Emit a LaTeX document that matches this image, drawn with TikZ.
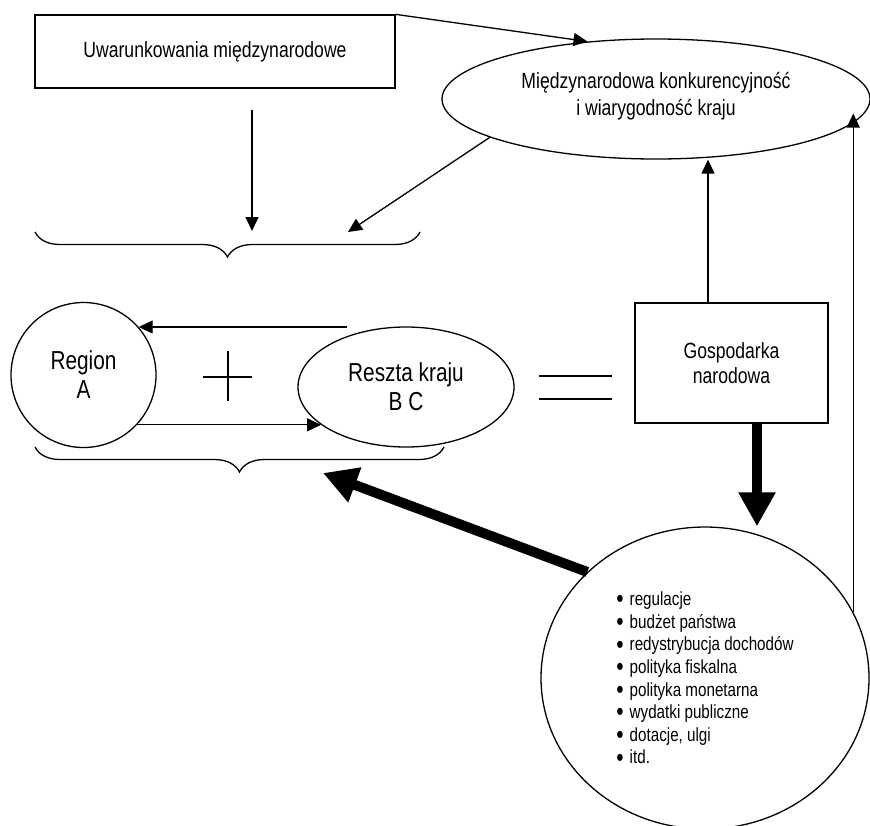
\documentclass[tikz,border=0pt]{standalone}
\usepackage{fontspec}
\setmainfont{Liberation Sans}[FakeStretch=0.8]
\usepackage{tikz}
\usetikzlibrary{arrows.meta,shapes.geometric,decorations.pathreplacing}

\begin{document}
\begin{tikzpicture}[x=0.5pt,y=-0.5pt,line width=0.65pt,
  arr/.style={-{Triangle[length=7pt,width=6.5pt]}},
  gruba/.style={line width=5pt,-{Triangle[length=17pt,width=17.5pt]}},
  klamra/.style={decorate,decoration={brace,mirror,amplitude=12.5pt}},
  opis/.style={font=\fontsize{11}{12.5}\selectfont,align=center},
  duzy/.style={font=\fontsize{13}{14.5}\selectfont,align=center}]
 \def\pkt{\smash{\raisebox{-1.1pt}{\fontsize{13}{0}\selectfont\textbullet}}\hspace{3pt}}
 \useasboundingbox (0,0) rectangle (870,825);
 \node[draw,opis,minimum width=180pt,minimum height=36.5pt] (uw) at (215,51.5) {Uwarunkowania międzynarodowe};
 \node[draw,ellipse,opis,minimum width=214pt,minimum height=60pt] (mk) at (656,99)
   {\raisebox{5pt}{\shortstack{Międzynarodowa konkurencyjność\\i wiarygodność kraju}}};
 \node[draw,circle,duzy,minimum size=72.5pt] (ra) at (83.5,375) {Region\\A};
 \node[draw,ellipse,duzy,minimum width=108pt,minimum height=60pt] (rk) at (406,387) {Reszta kraju\\B C};
 \node[draw,opis,minimum width=96.5pt,minimum height=60pt] (gn) at (731.5,363) {Gospodarka\\narodowa};
 \node[draw,ellipse,minimum width=164pt,minimum height=151pt,
   font=\fontsize{9.5}{11.3}\selectfont,align=left] (bc) at (705,678)
   {\pkt regulacje\\\pkt budżet państwa\\\pkt redystrybucja dochodów\\\pkt polityka fiskalna\\
    \pkt polityka monetarna\\\pkt wydatki publiczne\\\pkt dotacje, ulgi\\\pkt itd.};
 % klamry
 \draw[klamra] (35,232) -- (420,232);
 \draw[klamra] (35,447) -- (444,447);
 % + oraz =
 \draw (203,377) -- (252,377) (228,351) -- (228,401);
 \draw (539,376) -- (612,376) (539,399) -- (612,399);
 \coordinate (t1) at (252,110);
 \coordinate (t2) at (252,231);
 \coordinate (t3) at (348,232);
 \coordinate (t4) at (323,473);
 \coordinate (g1) at ([xshift=-11.75pt]gn.north);
 \coordinate (g2) at ([xshift=12.75pt]gn.south);
 \draw[arr] (uw.north east) -- (mk.140);
 \draw[arr] (mk.193) -- (t3);
 \draw[arr] (t1) -- (t2);
 \draw[arr] (g1) -- (g1 |- mk.south);
 \draw[arr] (bc.24) -- (bc.24 |- mk.-4);
 \draw[arr] ([xshift=25pt]ra.41 -| rk.west) -- (ra.41);
 \draw[arr] (ra.-43 |- rk.204) -- (rk.204);
 \draw[gruba] (g2) -- (g2 |- bc.north);
 \draw[gruba] (bc.138) -- (t4);
\end{tikzpicture}
\end{document}
